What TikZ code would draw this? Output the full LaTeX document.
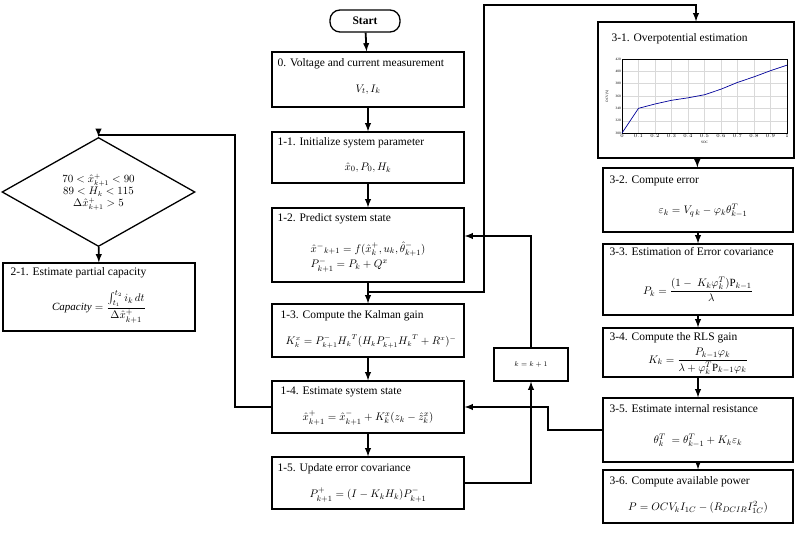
\documentclass[tikz,border=0pt]{standalone}
\usepackage{amsmath}
\usepackage{fontspec}
\setmainfont{Liberation Serif}
\usetikzlibrary{shapes.geometric}

\begin{document}
\begin{tikzpicture}[
            x=1pt, y=-1pt,
            box/.style={draw, line width=1.3pt, inner sep=0pt},
            title/.style={anchor=north west, inner sep=0pt, font=\fontsize{11.5}{13}\selectfont},
            eq/.style={inner sep=0pt, font=\fontsize{11}{13}\selectfont, align=center},
            flow/.style={line width=1.8pt, -latex},
            ]
            \useasboundingbox (0,0) rectangle (800,534);
            % main column
            \node[box, rounded corners=10pt, minimum width=70pt, minimum height=22pt, font=\fontsize{11.5}{13}\selectfont\bfseries] (start) at (365,21) {Start};
            \node[box, minimum width=192pt, minimum height=55pt] (b0) at (368,79.5) {};
            \node[box, minimum width=192pt, minimum height=51pt] (b11) at (368,157.5) {};
            \node[box, minimum width=192pt, minimum height=74pt] (b12) at (368,245) {};
            \node[box, minimum width=192pt, minimum height=53pt] (b13) at (368,330.5) {};
            \node[box, minimum width=192pt, minimum height=52pt] (b14) at (368,407) {};
            \node[box, minimum width=192pt, minimum height=52pt] (b15) at (368,483) {};
            \node[box, minimum width=74pt, minimum height=33pt, font=\scriptsize] (kbox) at (531,364.5) {$k=k+1$};

            \node[title] at ([shift={(6,7)}]b0.north west) {0. Voltage and current measurement};
            \node[eq] at ([shift={(0,10)}]b0.center) {$V_t, I_k$};
            \node[title] at ([shift={(6,6)}]b11.north west) {1-1. Initialize system parameter};
            \node[eq] at ([shift={(0,10)}]b11.center) {$\hat{x}_0, P_0, H_k$};
            \node[title] at ([shift={(6,6)}]b12.north west) {1-2. Predict system state};
            \node[eq, align=left] at ([shift={(0,12)}]b12.center) {$\hat{x}^{-}{}_{k+1} = f(\hat{x}^{+}_{k}, u_k, \hat{\theta}^{-}_{k+1})$\\[1pt]$P^{-}_{k+1} = P_k + Q^x$};
            \node[title] at ([shift={(9,7)}]b13.north west) {1-3. Compute the Kalman gain};
            \node[eq, font=\fontsize{10.5}{12}\selectfont] at ([shift={(3,11)}]b13.center) {$K^x_k = P^{-}_{k+1}{H_k}^T (H_k P^{-}_{k+1} {H_k}^T + R^x)^{-}$};
            \node[title] at ([shift={(9,6)}]b14.north west) {1-4. Estimate system state};
            \node[eq] at ([shift={(0,11)}]b14.center) {$\hat{x}^{+}_{k+1} = \hat{x}^{-}_{k+1} + K^x_k (z_k - \hat{z}^x_k)$};
            \node[title] at ([shift={(6,7)}]b15.north west) {1-5. Update error covariance};
            \node[eq] at ([shift={(0,12)}]b15.center) {$P^{+}_{k+1} = (I - K_k H_k) P^{-}_{k+1}$};

            % left branch
            \node[box, shape=diamond, minimum width=193pt, minimum height=72pt, align=center, font=\fontsize{10.5}{12}\selectfont] (dia) at (98.5,192) {$70 < \hat{x}^{+}_{k+1} < 90$\\$89 < H_k < 115$\\$\Delta\hat{x}^{+}_{k+1} > 5$};
            \node[box, minimum width=192pt, minimum height=68pt] (b21) at (99,297) {};
            \node[title] at ([shift={(8,5)}]b21.north west) {2-1. Estimate partial capacity};
            \node[eq] at ([shift={(0,10)}]b21.center) {$\mathit{Capacity} = \dfrac{\int_{t_1}^{t_2} i_k\,dt}{\Delta\hat{x}^{+}_{k+1}}$};

            % right column
            \node[box, minimum width=196pt, minimum height=136pt] (b31) at (696,90) {};
            \node[box, minimum width=190pt, minimum height=64pt] (b32) at (698,200) {};
            \node[box, minimum width=190pt, minimum height=71pt] (b33) at (698,279.5) {};
            \node[box, minimum width=190pt, minimum height=49pt] (b34) at (698,352.5) {};
            \node[box, minimum width=190pt, minimum height=64pt] (b35) at (698,430) {};
            \node[box, minimum width=190pt, minimum height=53pt] (b36) at (698,496.5) {};

            \node[title] at ([shift={(14,12)}]b31.north west) {3-1. Overpotential estimation};
            % OCV curve
            \begin{scope}[shift={(622,133)}, x=165pt, y=0.617pt, every node/.style={font=\fontsize{3.5}{4}\selectfont, inner sep=1pt}]
              \foreach \i in {0,0.1,...,1.01} {
                \draw[gray!30, line width=0.3pt] (\i,0) -- (\i,120);
                \node[below] at (\i,0) {\pgfmathprintnumber{\i}};
              }
              \foreach \v in {0,20,...,120} {
                \draw[gray!30, line width=0.3pt] (0,\v) -- (1,\v);
                \pgfmathtruncatemacro\lab{300+\v}
                \node[left] at (0,\v) {\lab};
              }
              \draw[line width=0.4pt] (0,0) rectangle (1,120);
              \draw[blue!60!black, line width=0.7pt] (0,0) -- (0.1,40) -- (0.2,47) -- (0.3,53) -- (0.4,57) -- (0.5,62) -- (0.6,71) -- (0.7,82) -- (0.8,91) -- (0.9,101) -- (1,110);
              \node at (0.5,-15) {SOC};
              \node[rotate=90] at (-0.09,60) {OCV(V)};
            \end{scope}

            \node[title] at ([shift={(7,8)}]b32.north west) {3-2. Compute error};
            \node[eq] at ([shift={(5,11)}]b32.center) {$\varepsilon_k = V_{q\,k} - \varphi_k \theta^T_{k-1}$};
            \node[title] at ([shift={(7,4)}]b33.north west) {3-3. Estimation of Error covariance};
            \node[eq] at ([shift={(0,10)}]b33.center) {$P_k = \dfrac{(1 -\ K_k \varphi^T_k)\mathrm{P}_{k-1}}{\lambda}$};
            \node[title] at ([shift={(7,5)}]b34.north west) {3-4. Compute the RLS gain};
            \node[eq] at ([shift={(0,9)}]b34.center) {$K_k = \dfrac{P_{k-1}\varphi_k}{\lambda + \varphi^T_k \mathrm{P}_{k-1}\varphi_k}$};
            \node[title] at ([shift={(7,7)}]b35.north west) {3-5. Estimate internal resistance};
            \node[eq] at ([shift={(0,11)}]b35.center) {$\theta^T_k\ = \theta^T_{k-1} + K_k \varepsilon_k$};
            \node[title] at ([shift={(7,7)}]b36.north west) {3-6. Compute available power};
            \node[eq] at ([shift={(0,11)}]b36.center) {$P = OCV_k I_{1C} - (R_{DCIR} I^2_{1C})$};

            % connectors
            \coordinate (j1) at (368,292);
            \coordinate (tr) at (484,5);
            \coordinate (c1) at (548,420);
            \coordinate (c2) at (235,135);
            \coordinate (k1) at (531,236);
            \draw[flow] (start) -- (b0);
            \draw[flow] (b0) -- (b11);
            \draw[flow] (b11) -- (b12);
            \draw[flow] (b12) -- (b13);
            \draw[flow] (b13) -- (b14);
            \draw[flow] (b14) -- (b15);
            \draw[flow] (j1) -| (tr) -| (b31.north);
            \draw[flow] (b15) -| (kbox);
            \draw[flow] (kbox) -- (k1) -- (b12.east |- k1);
            \draw[flow] (b35.west) -| (c1) |- (b14.east);
            \draw[flow] (b14.west) -| (c2) -| (dia.north);
            \draw[flow] (dia) -- (b21);
            \draw[flow] (b31) -- (b32);
            \draw[flow] (b32) -- (b33);
            \draw[flow] (b33) -- (b34);
            \draw[flow] (b34) -- (b35);
            \draw[flow] (b35) -- (b36);
        \end{tikzpicture}
\end{document}
